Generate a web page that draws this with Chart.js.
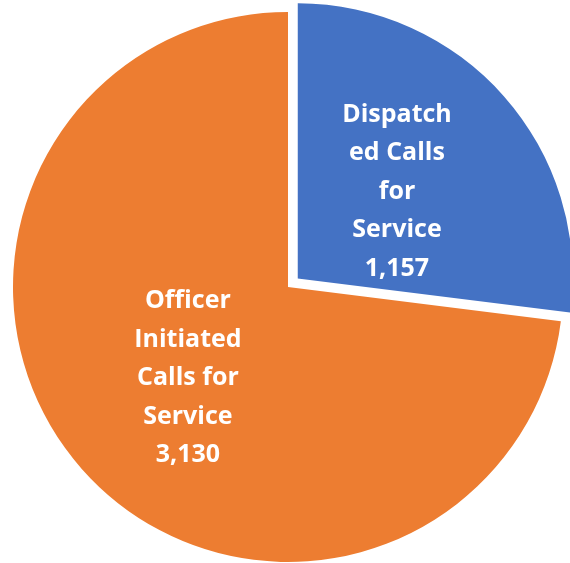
<!DOCTYPE html>
<html>
<head>
<meta charset="utf-8">
<script src="https://cdn.jsdelivr.net/npm/chart.js@4/dist/chart.umd.min.js"></script>
<style>
  html, body { margin: 0; padding: 0; background: #fff; overflow: hidden; }
  #wrap { width: 570px; height: 563px; }
</style>
</head>
<body>
<div id="wrap"><canvas id="pie" width="570" height="563"></canvas></div>
<script>
// slice names split into the lines shown inside each slice
const categories = [
  ['Dispatch', 'ed Calls', 'for', 'Service'],
  ['Officer', 'Initiated', 'Calls for', 'Service']
];
const callCounts = [1157, 3130];
const sliceColors = ['#4472C4', '#ED7D31'];
// chart.js v4 moves an arc by offset/4
const sliceOffsets = [52, 0];

// draws the wrapped name + value in the middle of each slice
const sliceLabels = {
  id: 'sliceLabels',
  afterDatasetsDraw(chart) {
    const ctx = chart.ctx;
    const meta = chart.getDatasetMeta(0);
    ctx.save();
    ctx.fillStyle = '#fff';
    ctx.font = 'bold 25px "Open Sans", "Noto Sans", sans-serif';
    ctx.textAlign = 'center';
    ctx.textBaseline = 'middle';
    const lineH = 38.5;
    meta.data.forEach((arc, i) => {
      const mid = (arc.startAngle + arc.endAngle) / 2;
      const r = arc.outerRadius * 0.5 + (arc.options.offset || 0) / 8;
      const px = arc.x + Math.cos(mid) * r + (i === 1 ? 3 : 1);
      const py = arc.y + Math.sin(mid) * r;
      const lines = categories[i].concat([callCounts[i].toLocaleString('en-US')]);
      const top = py - (lines.length - 1) * lineH / 2;
      lines.forEach((t, j) => ctx.fillText(t, px, top + j * lineH));
    });
    ctx.restore();
  }
};

new Chart(document.getElementById('pie'), {
  type: 'pie',
  data: {
    labels: categories.map(c => c.join(' ')),
    datasets: [{
      data: callCounts,
      backgroundColor: sliceColors,
      borderWidth: 0,
      offset: sliceOffsets,
      clip: false
    }]
  },
  options: {
    responsive: false,
    animation: false,
    radius: 275,
    layout: { padding: { left: 6, top: 11, right: 0, bottom: 0 } },
    plugins: {
      legend: { display: false },
      tooltip: { enabled: false }
    }
  },
  plugins: [sliceLabels]
});
</script>
</body>
</html>
